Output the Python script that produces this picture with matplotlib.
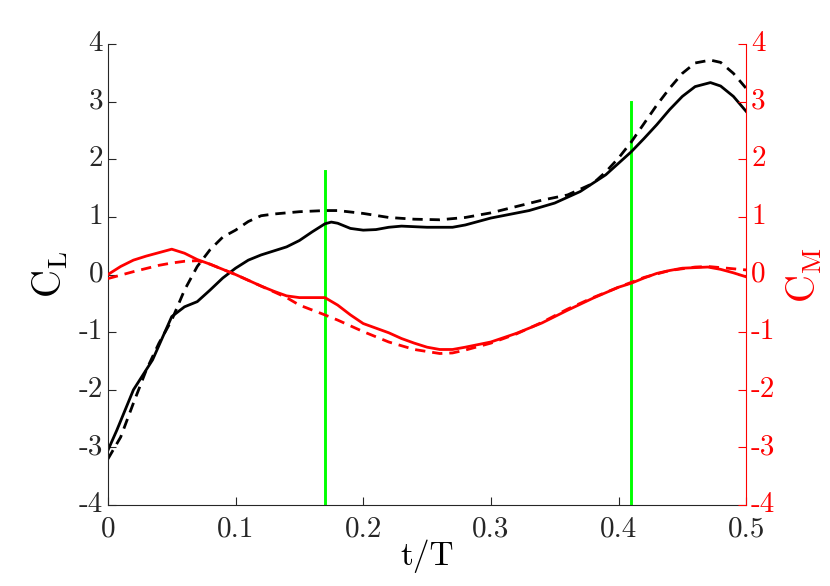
import numpy as np
import matplotlib
matplotlib.use("Agg")
import matplotlib.pyplot as plt

plt.rcParams['font.family'] = 'serif'
plt.rcParams['font.serif'] = ['cmr10', 'DejaVu Serif']
plt.rcParams['mathtext.fontset'] = 'cm'
plt.rcParams['axes.unicode_minus'] = False

# ---- data ----
t_cl = [0, 0.007, 0.02, 0.035, 0.05, 0.06, 0.07, 0.08, 0.09, 0.10, 0.11, 0.12, 0.13,
        0.14, 0.15, 0.16, 0.17, 0.175, 0.18, 0.19, 0.20, 0.21, 0.22, 0.23, 0.25, 0.27,
        0.28, 0.30, 0.33, 0.35, 0.37, 0.39, 0.41, 0.42, 0.43, 0.44, 0.45, 0.46, 0.472,
        0.48, 0.49, 0.50]
cl_solid = [-3.05, -2.7, -2.0, -1.48, -0.73, -0.56, -0.47, -0.27, -0.06, 0.11, 0.25, 0.34,
            0.41, 0.48, 0.59, 0.74, 0.88, 0.91, 0.89, 0.80, 0.77, 0.78, 0.82, 0.84, 0.82,
            0.82, 0.86, 0.98, 1.11, 1.24, 1.44, 1.73, 2.13, 2.36, 2.60, 2.86, 3.09, 3.26,
            3.33, 3.27, 3.09, 2.83]

t_cl2 = [0, 0.01, 0.02, 0.03, 0.04, 0.05, 0.06, 0.07, 0.08, 0.09, 0.10, 0.11, 0.12, 0.13,
         0.15, 0.17, 0.18, 0.20, 0.22, 0.24, 0.26, 0.28, 0.30, 0.32, 0.34, 0.36, 0.38,
         0.39, 0.40, 0.41, 0.42, 0.43, 0.44, 0.45, 0.46, 0.472, 0.48, 0.49, 0.50]
cl_dashed = [-3.2, -2.82, -2.23, -1.66, -1.19, -0.79, -0.27, 0.14, 0.43, 0.65, 0.77, 0.92,
             1.02, 1.05, 1.09, 1.11, 1.11, 1.06, 0.99, 0.96, 0.95, 0.99, 1.07, 1.18, 1.29,
             1.38, 1.58, 1.78, 2.02, 2.30, 2.62, 2.94, 3.23, 3.49, 3.67, 3.72, 3.68, 3.49,
             3.23]

t_cm = [0, 0.01, 0.02, 0.03, 0.04, 0.05, 0.06, 0.07, 0.08, 0.09, 0.10, 0.11, 0.12, 0.13,
        0.14, 0.15, 0.16, 0.17, 0.18, 0.19, 0.20, 0.21, 0.22, 0.23, 0.24, 0.25, 0.26,
        0.27, 0.28, 0.30, 0.32, 0.34, 0.36, 0.38, 0.40, 0.41, 0.42, 0.43, 0.44, 0.45,
        0.46, 0.47, 0.48, 0.49, 0.50]
cm_solid = [0.0, 0.14, 0.25, 0.32, 0.38, 0.44, 0.37, 0.26, 0.18, 0.09, 0.0, -0.1, -0.2,
            -0.29, -0.37, -0.40, -0.40, -0.40, -0.53, -0.70, -0.85, -0.93, -1.01, -1.11,
            -1.19, -1.26, -1.30, -1.30, -1.26, -1.17, -1.02, -0.84, -0.62, -0.41, -0.22,
            -0.15, -0.06, 0.02, 0.07, 0.11, 0.12, 0.13, 0.09, 0.03, -0.04]

t_cm2 = [0, 0.02, 0.04, 0.05, 0.06, 0.07, 0.08, 0.10, 0.12, 0.14, 0.15, 0.17, 0.18, 0.20,
         0.22, 0.24, 0.26, 0.27, 0.28, 0.30, 0.32, 0.34, 0.36, 0.38, 0.40, 0.42, 0.44,
         0.46, 0.47, 0.48, 0.50]
cm_dashed = [-0.07, 0.05, 0.16, 0.2, 0.23, 0.24, 0.18, 0.0, -0.2, -0.40, -0.53, -0.70,
             -0.79, -0.99, -1.17, -1.30, -1.37, -1.36, -1.31, -1.19, -1.03, -0.83, -0.60,
             -0.40, -0.22, -0.05, 0.07, 0.13, 0.14, 0.12, 0.08]

marks_t = [0.17, 0.41]
marks_top = [1.8, 3.0]

x_ticks = [0, 0.1, 0.2, 0.3, 0.4, 0.5]
x_labels = ['0', '0.1', '0.2', '0.3', '0.4', '0.5']
y_ticks = [-4, -3, -2, -1, 0, 1, 2, 3, 4]
y_labels = ['-4', '-3', '-2', '-1', '0', '1', '2', '3', '4']

# ---- figure ----
fig = plt.figure(figsize=(8.3, 5.86), dpi=100)
ax = fig.add_axes([0.130, 0.138, 0.769, 0.787])
ax2 = ax.twinx()

# green markers first so the curves sit on top of them
for xm, ym in zip(marks_t, marks_top):
    ax.plot([xm, xm], [-4, ym], color=(0, 1, 0), lw=2.1)

dash = (0, (3.7, 2.5))
ax.plot(t_cl, cl_solid, color='black', lw=2)
ax.plot(t_cl2, cl_dashed, color='black', lw=2, ls=dash)

ax2.plot(t_cm, cm_solid, color='red', lw=2)
ax2.plot(t_cm2, cm_dashed, color='red', lw=2, ls=dash)

ax.set_xlim(0, 0.5)
ax.set_ylim(-4, 4)
ax2.set_ylim(-4, 4)

ax.set_xticks(x_ticks)
ax.set_xticklabels(x_labels)
ax.set_yticks(y_ticks)
ax.set_yticklabels(y_labels, va='center')
ax2.set_yticks(y_ticks)
ax2.set_yticklabels(y_labels, va='center')

ax.tick_params(axis='both', direction='in', length=6, width=0.8, labelsize=21,
               colors='#262626', top=False, right=False)
ax.tick_params(axis='x', pad=8)
ax2.tick_params(axis='y', direction='in', length=6, width=0.8, labelsize=21,
                colors='red')

for a in (ax, ax2):
    a.spines['top'].set_visible(False)
ax.spines['right'].set_visible(False)
ax2.spines['left'].set_visible(False)
ax2.spines['bottom'].set_visible(False)
ax2.spines['right'].set_color('red')
ax.spines['left'].set_color('#262626')
ax.spines['bottom'].set_color('#262626')

ax.set_xlabel('t/T', fontsize=24, labelpad=-2)
ax.set_ylabel(r'$\mathrm{C_L}$', fontsize=28, labelpad=6)
ax2.set_ylabel(r'$\mathrm{C_M}$', fontsize=28, color='red', labelpad=6)

fig.savefig('out.png', dpi=100)
